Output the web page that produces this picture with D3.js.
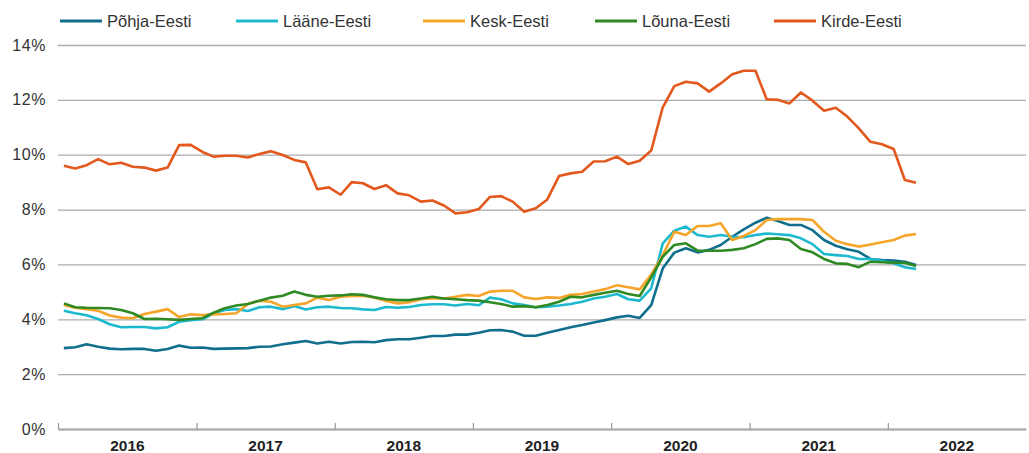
<!DOCTYPE html>
<html>
<head>
<meta charset="utf-8">
<script src="https://cdn.jsdelivr.net/npm/d3@7"></script>
<style>
  html, body { margin: 0; padding: 0; background: #fff; }
  svg { display: block; font-family: "Liberation Sans", Arial, Helvetica, sans-serif; }
</style>
</head>
<body>
<svg id="chart" width="1029" height="453"></svg>
<script>
// ---- Data (monthly, Jan 2016 – Mar 2022, %) ----
const startYear = 2016;
const yearLabels = ["2016", "2017", "2018", "2019", "2020", "2021", "2022"];
const yTicks = [0, 2, 4, 6, 8, 10, 12, 14];
const seriesNames = ["Põhja-Eesti", "Lääne-Eesti", "Kesk-Eesti", "Lõuna-Eesti", "Kirde-Eesti"];

const pohja = [2.95, 2.98, 3.09, 3.00, 2.93, 2.91, 2.92, 2.92, 2.85, 2.92, 3.04, 2.96,
  2.97, 2.92, 2.93, 2.94, 2.95, 3.00, 3.01, 3.09, 3.15, 3.21, 3.12, 3.18, 3.12,
  3.17, 3.18, 3.16, 3.24, 3.27, 3.27, 3.33, 3.39, 3.39, 3.44, 3.44, 3.51,
  3.60, 3.61, 3.55, 3.40, 3.40, 3.51, 3.61, 3.71, 3.79, 3.88, 3.97, 4.07, 4.13,
  4.05, 4.52, 5.86, 6.43, 6.59, 6.44, 6.53, 6.71, 7.01, 7.28, 7.52, 7.70,
  7.58, 7.44, 7.44, 7.25, 6.89, 6.68, 6.55, 6.46, 6.20, 6.16, 6.14, 6.10, 5.98];
const laane = [4.31, 4.22, 4.15, 4.01, 3.82, 3.71, 3.72, 3.72, 3.67, 3.71, 3.91, 3.97,
  4.00, 4.22, 4.34, 4.37, 4.30, 4.44, 4.46, 4.37, 4.48, 4.36, 4.44, 4.46, 4.41,
  4.40, 4.36, 4.34, 4.45, 4.42, 4.45, 4.52, 4.55, 4.55, 4.50, 4.56, 4.51,
  4.79, 4.73, 4.58, 4.52, 4.44, 4.46, 4.50, 4.56, 4.64, 4.76, 4.82, 4.92, 4.73,
  4.68, 5.13, 6.77, 7.23, 7.38, 7.07, 7.01, 7.07, 7.01, 6.99, 7.07, 7.13,
  7.10, 7.07, 6.95, 6.74, 6.38, 6.34, 6.31, 6.20, 6.20, 6.12, 6.04, 5.90, 5.83];
const kesk = [4.52, 4.42, 4.37, 4.31, 4.14, 4.06, 4.04, 4.19, 4.28, 4.37, 4.08, 4.18,
  4.15, 4.18, 4.19, 4.22, 4.56, 4.68, 4.64, 4.46, 4.52, 4.58, 4.79, 4.70, 4.82,
  4.85, 4.86, 4.79, 4.67, 4.58, 4.62, 4.73, 4.76, 4.76, 4.82, 4.89, 4.85,
  5.01, 5.04, 5.04, 4.80, 4.74, 4.80, 4.78, 4.89, 4.92, 5.01, 5.10, 5.24, 5.17,
  5.09, 5.63, 6.34, 7.19, 7.07, 7.40, 7.40, 7.50, 6.89, 7.04, 7.25, 7.62,
  7.65, 7.65, 7.65, 7.62, 7.19, 6.86, 6.74, 6.65, 6.73, 6.81, 6.89, 7.05, 7.11];
const louna = [4.58, 4.44, 4.42, 4.41, 4.40, 4.34, 4.22, 4.01, 4.02, 4.00, 3.98, 4.01,
  4.04, 4.24, 4.40, 4.50, 4.56, 4.68, 4.79, 4.86, 5.01, 4.89, 4.82, 4.86, 4.87,
  4.91, 4.89, 4.80, 4.73, 4.70, 4.70, 4.76, 4.82, 4.76, 4.73, 4.70, 4.68,
  4.62, 4.56, 4.46, 4.48, 4.44, 4.52, 4.64, 4.82, 4.80, 4.89, 4.97, 5.04, 4.92,
  4.85, 5.53, 6.28, 6.71, 6.77, 6.50, 6.50, 6.50, 6.53, 6.59, 6.74, 6.93,
  6.95, 6.89, 6.56, 6.44, 6.20, 6.04, 6.02, 5.90, 6.10, 6.08, 6.06, 6.06, 5.94];
const kirde = [9.60, 9.50, 9.62, 9.84, 9.65, 9.71, 9.56, 9.53, 9.42, 9.53, 10.35, 10.36,
  10.10, 9.93, 9.96, 9.96, 9.90, 10.03, 10.13, 9.99, 9.81, 9.72, 8.74, 8.81, 8.54,
  9.00, 8.96, 8.75, 8.89, 8.59, 8.52, 8.29, 8.33, 8.15, 7.86, 7.90, 8.02,
  8.46, 8.49, 8.29, 7.92, 8.05, 8.37, 9.22, 9.32, 9.38, 9.75, 9.76, 9.93, 9.66,
  9.78, 10.15, 11.73, 12.50, 12.66, 12.60, 12.30, 12.60, 12.93, 13.06, 13.06, 12.02,
  12.00, 11.87, 12.27, 11.97, 11.60, 11.71, 11.39, 10.96, 10.47, 10.38, 10.21, 9.08, 8.98];

const seriesValues = [pohja, laane, kesk, louna, kirde];
const colors = ["#0f6f8c", "#1db9cf", "#f5a52a", "#2f8a23", "#e2581d"];

// ---- Layout ----
const svg = d3.select("#chart");
const mLeft = 58, mRight = 1026, mTop = 45, mBottom = 429;

const x = d3.scaleTime()
  .domain([new Date(startYear, 0, 1), new Date(startYear + yearLabels.length, 0, 1)])
  .range([mLeft, mRight]);
const y = d3.scaleLinear().domain([0, 14]).range([mBottom, mTop]);

const monthX = i => {
  const a = new Date(startYear, i, 1), b = new Date(startYear, i + 1, 1);
  return (x(a) + x(b)) / 2;
};

// Y grid + labels
const yAxis = svg.append("g")
  .attr("transform", `translate(${mLeft},0)`)
  .call(d3.axisLeft(y).tickValues(yTicks).tickSize(-(mRight - mLeft)).tickPadding(12)
    .tickFormat(d => d + "%"));
yAxis.select(".domain").remove();
yAxis.selectAll(".tick line").attr("stroke", "#ababab").attr("stroke-width", 1.3);
yAxis.selectAll(".tick text").attr("fill", "#333").attr("font-size", 16)
  .attr("letter-spacing", "0.6px")
  .attr("font-family", "\"Liberation Sans\", Arial, sans-serif");

// X axis (year boundaries, ticks pointing up)
const yearStarts = yearLabels.map(s => new Date(+s, 0, 1));
const xAxis = svg.append("g")
  .attr("transform", `translate(0,${mBottom})`)
  .call(d3.axisBottom(x).tickValues(yearStarts).tickSizeInner(-6).tickSizeOuter(0).tickFormat(""));
xAxis.select(".domain").attr("stroke", "#aaa").attr("stroke-width", 2);
xAxis.selectAll(".tick line").attr("stroke", "#999").attr("stroke-width", 1.2);

// Year labels centred in each year
const yearMids = yearLabels.map(s => new Date(+s, 6, 1));
const xLab = svg.append("g")
  .attr("transform", `translate(0,${mBottom})`)
  .call(d3.axisBottom(x).tickValues(yearMids).tickSize(0).tickPadding(11)
    .tickFormat((d, i) => yearLabels[i]));
xLab.select(".domain").remove();
xLab.selectAll(".tick text").attr("fill", "#222").attr("font-size", 15.5).attr("font-weight", "bold")
  .attr("font-family", "\"Liberation Sans\", Arial, sans-serif");

// Lines
const line = d3.line().x((d, i) => monthX(i)).y(d => y(d));
seriesValues.forEach((vals, k) => {
  svg.append("path")
    .datum(vals)
    .attr("fill", "none")
    .attr("stroke", colors[k])
    .attr("stroke-width", 2.6)
    .attr("stroke-linejoin", "round")
    .attr("d", line);
});

// Legend
const legendX = [60, 236, 423, 595, 774];
const lg = svg.append("g");
seriesNames.forEach((name, k) => {
  const g = lg.append("g").attr("transform", `translate(${legendX[k]},21)`);
  g.append("line").attr("x1", 0).attr("x2", 42).attr("y1", 0).attr("y2", 0)
    .attr("stroke", colors[k]).attr("stroke-width", 3);
  g.append("text").attr("x", 47).attr("y", 0).attr("dy", "0.35em")
    .attr("font-size", 16.5).attr("fill", "#333").text(name);
});
</script>
</body>
</html>
